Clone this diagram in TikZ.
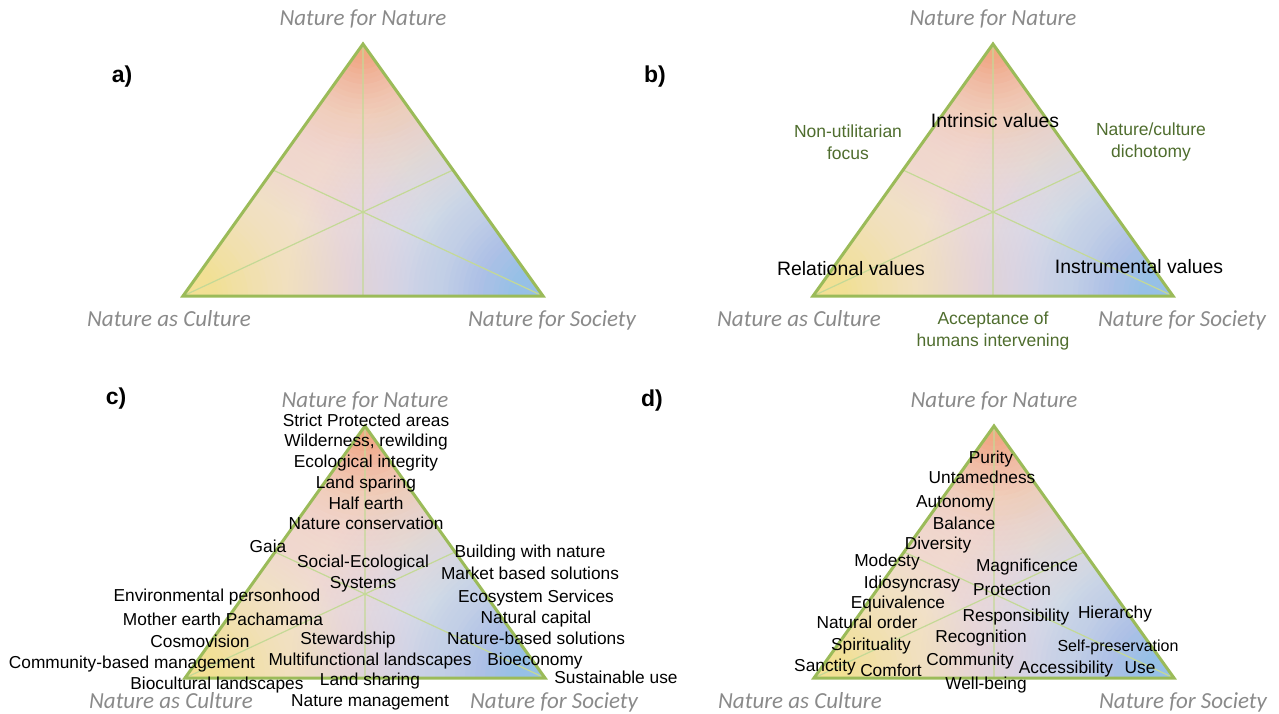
\documentclass[tikz,border=0pt]{standalone}
\usepackage{fontspec}
\setmainfont{Liberation Sans}
\newfontfamily\cornerfont{Carlito}
\usepackage{tikz}
\usetikzlibrary{positioning,calc}
\definecolor{triedge}{RGB}{155,187,89}
\definecolor{triline}{RGB}{196,217,150}
\definecolor{toporange}{RGB}{240,170,130}
\definecolor{leftyellow}{RGB}{250,224,148}
\definecolor{midpale}{RGB}{241,242,236}
\definecolor{rightblue}{RGB}{150,192,230}
\definecolor{labgray}{RGB}{138,138,138}
\definecolor{notegreen}{RGB}{79,109,46}

\begin{document}
\begin{tikzpicture}[x=1pt, y=-1pt,
	corner/.style={font=\cornerfont\itshape\fontsize{23}{26}\selectfont, text=labgray, inner sep=0pt, text height=14.8pt, text depth=0pt},
	item/.style={font=\fontsize{17.3}{21}\selectfont, inner sep=0pt, text height=12.4pt, text depth=0pt},
	smallitem/.style={item, font=\fontsize{16}{19}\selectfont, text height=11.5pt},
	bigitem/.style={font=\fontsize{19.4}{23}\selectfont, inner sep=0pt, text height=13.9pt, text depth=0pt},
	note/.style={font=\fontsize{17.5}{21.6}\selectfont, text=notegreen, align=center, inner sep=0pt},
	panel/.style={font=\bfseries\fontsize{23}{26}\selectfont, inner sep=0pt}]
	\useasboundingbox (0,0) rectangle (1279,713);

	% the four triangles
	\foreach \p/\ax/\ay in {a/363/44, b/993/44, c/365/426, d/994/426} {
		\coordinate (\p-top) at (\ax,\ay);
		\coordinate (\p-left) at (\ax-180,\ay+252);
		\coordinate (\p-right) at (\ax+180,\ay+252);
		\begin{scope}
			\clip (\p-top) -- (\p-left) -- (\p-right) -- cycle;
			\fill [midpale] (\p-left) rectangle (\ax+180,\ay);
			% a glow from each corner, built up in rings
			\foreach \cn/\col/\R/\ex in {left/leftyellow/270/2.0, right/rightblue/270/2.0, top/toporange/200/2.2} {
				\foreach \i in {0,...,54} {
					\pgfmathsetmacro\ta{max(0.001,1-(5*\i+2.5)/\R)}
					\pgfmathsetmacro\tb{max(0.001,1-(5*\i+7.5)/\R)}
					\pgfmathsetmacro\Aa{0.94*exp(\ex*ln(\ta))}
					\pgfmathsetmacro\Ab{0.94*exp(\ex*ln(\tb))}
					\pgfmathsetmacro\dl{max(0,(\Aa-\Ab)/(1-\Ab))}
					\fill [\col, opacity=\dl] (\p-\cn) circle (5*\i+5);
				}
			}
		\end{scope}
		\draw [triline, line width=1.2pt] (\p-top) -- ($(\p-left)!0.5!(\p-right)$)
			(\p-left) -- ($(\p-top)!0.5!(\p-right)$)
			(\p-right) -- ($(\p-top)!0.5!(\p-left)$);
		\draw [triedge, line width=3pt] (\p-top) -- (\p-left) -- (\p-right) -- cycle;
		\node [corner] (\p-nn) at ($(\p-top)+(0,-26)$) {Nature for Nature};
		\node [corner] (\p-nc) at ($(\p-left)+(-14,23)$) {Nature as Culture};
		\node [corner] (\p-ns) at ($(\p-right)+(9,23)$) {Nature for Society};
	}

	\node [panel] (a-lab) at (122,77) {a)};
	\node [panel] (b-lab) at (655,77) {b)};
	\node [panel] (c-lab) at (116,399) {c)};
	\node [panel] (d-lab) at (652,401) {d)};

	% b) values
	\node [bigitem] (intrinsic) at (995,121) {Intrinsic values};
	\node [bigitem] (relational) at (851,269) {Relational values};
	\node [bigitem] (instrumental) at (1139,267) {Instrumental values};
	\node [note] (nonutil) at (848,142) {Non-utilitarian\\focus};
	\node [note] (dichotomy) at (1151,142) {Nature/culture\\dichotomy};
	\node [note] (accept) at (993,331) {Acceptance of\\humans intervening};

	% c) approaches
	\node [item] (strict) at (366,420) {Strict Protected areas};
	\node [item] (wild) at (366,440) {Wilderness, rewilding};
	\node [item] (ecoint) at (366,461) {Ecological integrity};
	\node [item] (sparing) at (366,482) {Land sparing};
	\node [item] (halfearth) at (366,503) {Half earth};
	\node [item] (natcons) at (366,523) {Nature conservation};
	\node [item] (gaia) at (268,546) {Gaia};
	\node [item, align=center, text height=, font=\fontsize{17.3}{21}\selectfont] (ses) at (363,572) {Social-Ecological\\Systems};
	\node [item] (building) at (530,551) {Building with nature};
	\node [item] (market) at (530,573) {Market based solutions};
	\node [item] (ecoserv) at (536,596) {Ecosystem Services};
	\node [item] (natcap) at (536,617) {Natural capital};
	\node [item] (nbs) at (536,638) {Nature-based solutions};
	\node [item] (bioeco) at (535,659) {Bioeconomy};
	\node [item] (sustuse) at (616,677) {Sustainable use};
	\node [item] (envpers) at (217,595) {Environmental personhood};
	\node [item] (mother) at (223,619) {Mother earth Pachamama};
	\node [item] (cosmo) at (200,641) {Cosmovision};
	\node [item] (cbm) at (132,662) {Community-based management};
	\node [item] (biocult) at (217,683) {Biocultural landscapes};
	\node [item] (steward) at (348,638) {Stewardship};
	\node [item] (multi) at (370,659) {Multifunctional landscapes};
	\node [item] (sharing) at (370,679) {Land sharing};
	\node [item] (natman) at (370,700) {Nature management};

	% d) values
	\node [item] (purity) at (991,457) {Purity};
	\node [item] (untamed) at (982,477) {Untamedness};
	\node [item] (autonomy) at (955,501) {Autonomy};
	\node [item] (balance) at (964,523) {Balance};
	\node [item] (diversity) at (938,543) {Diversity};
	\node [item] (modesty) at (887,560) {Modesty};
	\node [item] (magnif) at (1027,565) {Magnificence};
	\node [item] (idiosync) at (912,582) {Idiosyncrasy};
	\node [item] (protect) at (1012,589) {Protection};
	\node [item] (equiv) at (898,602) {Equivalence};
	\node [item] (natorder) at (867,622) {Natural order};
	\node [item] (spirit) at (871,644) {Spirituality};
	\node [item] (sanctity) at (825,665) {Sanctity};
	\node [item] (comfort) at (891,670) {Comfort};
	\node [item] (community) at (970,659) {Community};
	\node [item] (recog) at (981,636) {Recognition};
	\node [item] (respons) at (1016,615) {Responsibility};
	\node [item] (hierarchy) at (1115,612) {Hierarchy};
	\node [smallitem] (selfpres) at (1118,646) {Self-preservation};
	\node [item] (access) at (1066,667) {Accessibility};
	\node [item] (use) at (1140,667) {Use};
	\node [item] (wellbeing) at (986,683) {Well-being};
\end{tikzpicture}
\end{document}
